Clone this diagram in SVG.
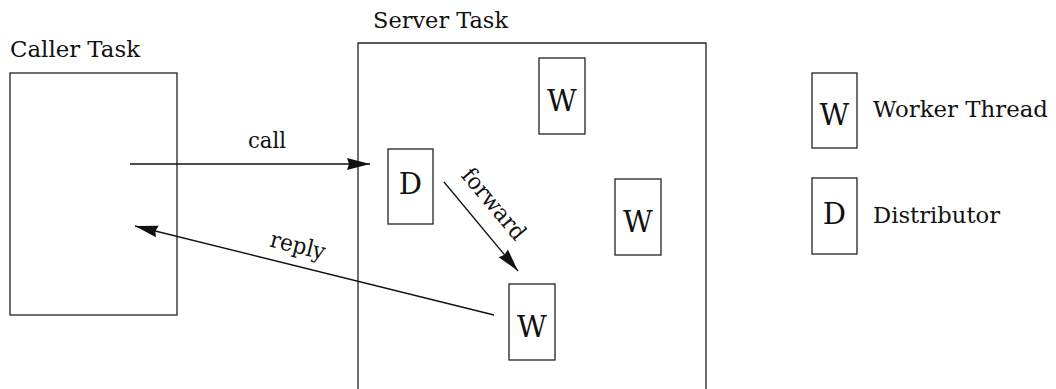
<svg xmlns="http://www.w3.org/2000/svg" width="1056" height="389" viewBox="0 0 1056 389">
  <style>
    .box { fill: none; stroke: #222; stroke-width: 1.3; }
    .lbl { font-family: "DejaVu Serif", serif; font-size: 23px; fill: #111; }
    .big { font-family: "DejaVu Serif", serif; font-size: 29px; fill: #111; text-anchor: middle; }
    .edge { fill: none; stroke: #111; stroke-width: 1.3; }
  </style>
  <defs>
    <!-- filled arrowhead with a slightly hollow back -->
    <marker id="arrow" markerUnits="userSpaceOnUse" markerWidth="25" markerHeight="14" viewBox="0 0 25 14" refX="24" refY="7" orient="auto">
      <path d="M1,1 L24,7 L1,13 L3,7 Z" fill="#111"/>
    </marker>
  </defs>
  <rect width="1056" height="389" fill="#fff"/>

  <!-- caller task -->
  <g id="caller">
    <text class="lbl" x="10" y="57" textLength="130" lengthAdjust="spacingAndGlyphs">Caller Task</text>
    <rect class="box" x="10" y="73" width="167" height="242"/>
  </g>

  <!-- server task (continues below the canvas) -->
  <g id="server">
    <text class="lbl" x="373" y="28" textLength="135" lengthAdjust="spacingAndGlyphs">Server Task</text>
    <path class="box" d="M358,395 V43 H706 V395"/>
  </g>

  <g id="distributor">
    <rect class="box" x="388" y="149" width="45" height="75"/>
    <text class="big" x="410.5" y="194">D</text>
  </g>
  <g id="worker-top">
    <rect class="box" x="539" y="58" width="46" height="76"/>
    <text class="big" x="562" y="111">W</text>
  </g>
  <g id="worker-right">
    <rect class="box" x="615" y="179" width="46" height="76"/>
    <text class="big" x="638" y="232">W</text>
  </g>
  <g id="worker-bottom">
    <rect class="box" x="509" y="284" width="46" height="76"/>
    <text class="big" x="532" y="337">W</text>
  </g>

  <!-- legend -->
  <g id="legend-worker">
    <rect class="box" x="812" y="73" width="45" height="75"/>
    <text class="big" x="834.5" y="125">W</text>
    <text class="lbl" x="873" y="117" textLength="175" lengthAdjust="spacingAndGlyphs">Worker Thread</text>
  </g>
  <g id="legend-distributor">
    <rect class="box" x="812" y="178" width="45" height="76"/>
    <text class="big" x="834.5" y="224">D</text>
    <text class="lbl" x="873" y="223" textLength="127" lengthAdjust="spacingAndGlyphs">Distributor</text>
  </g>

  <!-- connectors -->
  <g id="connectors">
    <line class="edge" x1="130" y1="164" x2="370" y2="164" marker-end="url(#arrow)"/>
    <text class="lbl" x="267" y="148" text-anchor="middle" textLength="38" lengthAdjust="spacingAndGlyphs">call</text>

    <line class="edge" x1="444" y1="182" x2="518" y2="271" marker-end="url(#arrow)"/>
    <text class="lbl" x="488" y="209" text-anchor="middle" transform="rotate(50 488 209)" textLength="86" lengthAdjust="spacingAndGlyphs">forward</text>

    <line class="edge" x1="494" y1="315" x2="135" y2="226" marker-end="url(#arrow)"/>
    <text class="lbl" x="296" y="253" text-anchor="middle" transform="rotate(14 296 253)" textLength="56" lengthAdjust="spacingAndGlyphs">reply</text>
  </g>
</svg>
